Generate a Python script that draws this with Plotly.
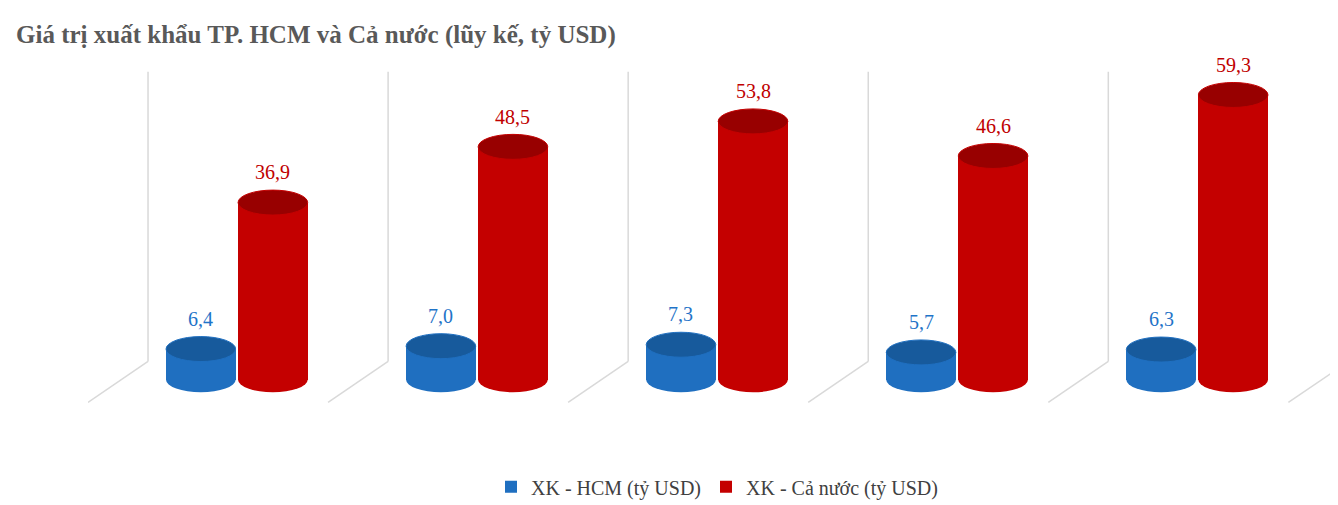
import plotly.graph_objects as go

periods = ["02T.20", "02T.21", "02T.22", "02T.23", "02T.24"]
hcm = [6.4, 7.0, 7.3, 5.7, 6.3]
ca_nuoc = [36.9, 48.5, 53.8, 46.6, 59.3]

FONT = "Liberation Serif"
BLUE, BLUE_TOP, BLUE_TXT = "#1f6fc0", "#175a9c", "#1f74c8"
RED, RED_TOP, RED_TXT = "#c40000", "#980000", "#c00000"
W = 0.29
OFF = 0.15
CAP = 2.6  # half-height of the ellipse caps, in y units

xs = list(range(len(periods)))
fig = go.Figure()

fig.add_trace(go.Bar(x=[i - OFF for i in xs], y=hcm, width=W, name="XK - HCM (tỷ USD)",
                     marker=dict(color=BLUE, line=dict(width=0))))
fig.add_trace(go.Bar(x=[i + OFF for i in xs], y=ca_nuoc, width=W, name="XK - Cả nước (tỷ USD)",
                     marker=dict(color=RED, line=dict(width=0))))

shapes = []
annotations = []
for i in xs:
    for dx, v, body, top, txt in [(-OFF, hcm[i], BLUE, BLUE_TOP, BLUE_TXT),
                                  (OFF, ca_nuoc[i], RED, RED_TOP, RED_TXT)]:
        cx = i + dx
        # bottom cap
        shapes.append(dict(type="circle", xref="x", yref="y", x0=cx - W / 2, x1=cx + W / 2,
                           y0=-CAP, y1=CAP, fillcolor=body, line=dict(width=0), layer="below"))
        # top cap
        shapes.append(dict(type="circle", xref="x", yref="y", x0=cx - W / 2, x1=cx + W / 2,
                           y0=v - CAP, y1=v + CAP, fillcolor=top,
                           line=dict(width=1, color=body), layer="above"))
        annotations.append(dict(x=cx, y=v + CAP + 1, xref="x", yref="y", text=f"{v:.1f}".replace(".", ","),
                                showarrow=False, yanchor="bottom", font=dict(family=FONT, size=20, color=txt)))
    annotations.append(dict(x=i - 0.1, y=-12, xref="x", yref="y", text=periods[i], showarrow=False,
                            font=dict(family=FONT, size=21, color="#404040")))

# perspective wall/floor separators
for i in range(len(periods) + 1):
    gx = i - 0.37
    shapes.append(dict(type="line", xref="x", yref="paper", x0=gx, x1=gx, y0=0.96, y1=0.11,
                       line=dict(color="#d9d9d9", width=1.5), layer="below"))
    shapes.append(dict(type="line", xref="x", yref="paper", x0=gx, x1=gx - 0.25, y0=0.11, y1=-0.01,
                       line=dict(color="#d9d9d9", width=1.5), layer="below"))

fig.update_layout(
    width=1338, height=505,
    paper_bgcolor="white", plot_bgcolor="white",
    margin=dict(l=80, r=0, t=50, b=114),
    title=dict(text="<b>Giá trị xuất khẩu TP. HCM và Cả nước (lũy kế, tỷ USD)</b>",
               x=0.006, xanchor="left", y=0.965, yanchor="top",
               font=dict(family=FONT, size=25, color="#595959")),
    barmode="overlay", bargap=0,
    showlegend=True,
    legend=dict(orientation="h", x=0.5, xanchor="center", y=-0.2, yanchor="top",
                font=dict(family=FONT, size=20, color="#404040"), itemsizing="constant"),
    shapes=shapes, annotations=annotations,
)
fig.update_xaxes(range=[-0.62, 4.62], visible=False)
fig.update_yaxes(range=[-4, 67], visible=False)

fig.write_html("out.html")
